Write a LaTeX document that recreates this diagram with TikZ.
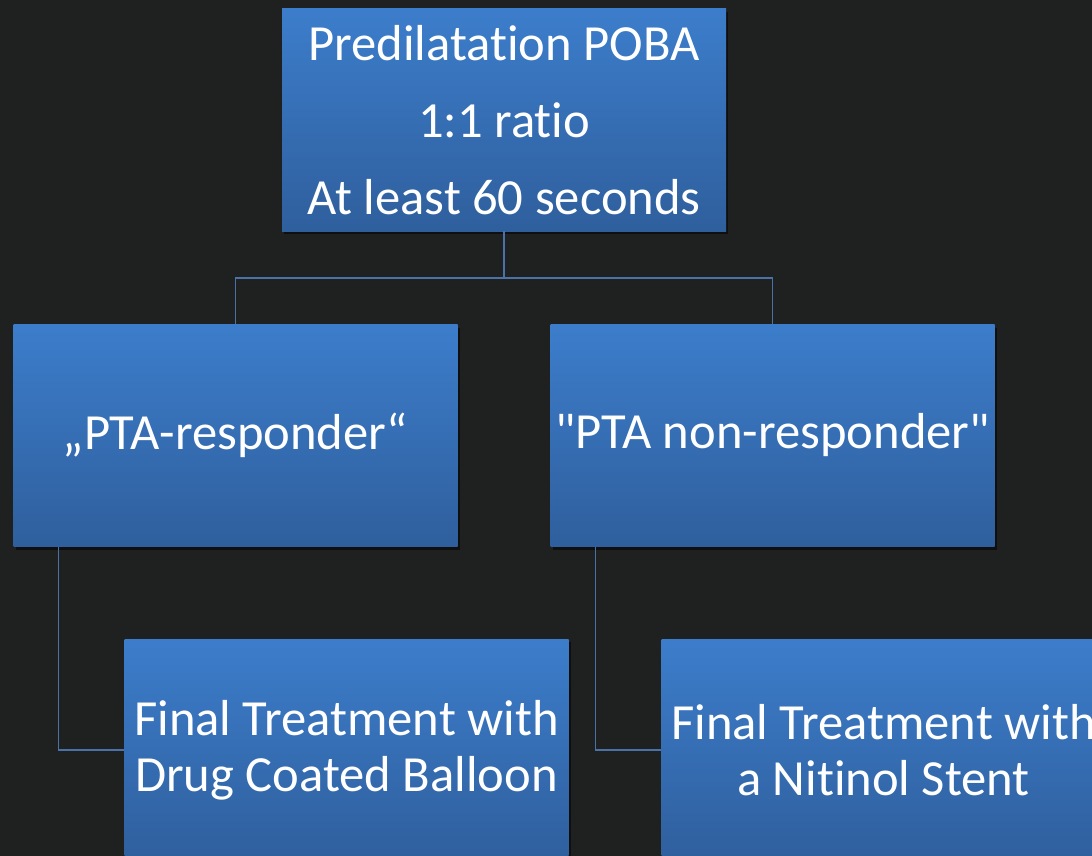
\documentclass[tikz,border=0pt]{standalone}
\usepackage{fontspec}
\newfontfamily\boxfont[Ligatures=NoCommon]{Carlito}
\usetikzlibrary{shadows}
\definecolor{bg}{HTML}{1F2020}
\definecolor{btop}{HTML}{3C7DCB}
\definecolor{bbot}{HTML}{2F5F9D}
\definecolor{conn}{HTML}{4A72A8}
\tikzset{
  box/.style={rectangle, minimum width=444pt, minimum height=222pt, inner sep=0pt,
    top color=btop, bottom color=bbot, draw=none, text=white, align=center,
    font=\boxfont\fontsize{50.6pt}{56pt}\selectfont,
    drop shadow={shadow xshift=2pt, shadow yshift=-3pt, opacity=0.5, fill=black}},
  conn/.style={draw=conn, line width=1.6pt}
}
\begin{document}
\begin{tikzpicture}[x=1pt,y=-1pt]
\fill[bg] (0,0) rectangle (1092,856);
\useasboundingbox (0,0) rectangle (1092,856);
\clip (0,0) rectangle (1092,856);
\node[box, font=\boxfont\fontsize{50.6pt}{77pt}\selectfont] (top) at (504,120) {Predilatation POBA\\1:1 ratio\\At least 60 seconds};
\node[box] (ml) at (235.5,435.5) {„PTA-responder“};
\node[box] (mr) at (772.5,435.5) {"PTA non-responder"};
\node[box] (bl) at (346.5,750) {Final Treatment with\\Drug Coated Balloon};
\node[box] (br) at (883.5,750) {Final Treatment with\\a Nitinol Stent};
\coordinate (split) at (504,278);
\draw[conn] (top.south) -- (split) -| (ml.north);
\draw[conn] (split) -| (mr.north);
\draw[conn] ([xshift=45pt]ml.south west) |- (bl.west);
\draw[conn] ([xshift=45pt]mr.south west) |- (br.west);
\end{tikzpicture}
\end{document}
